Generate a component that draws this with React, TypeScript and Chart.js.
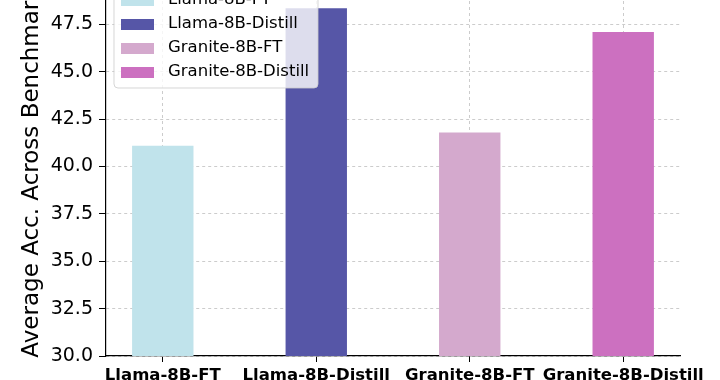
import React, { useEffect, useRef } from 'react';
import { Chart, registerables } from 'chart.js';

Chart.register(...registerables);

const categories = ['Llama-8B-FT', 'Llama-8B-Distill', 'Granite-8B-FT', 'Granite-8B-Distill'];
const values = [41.1, 48.35, 41.8, 47.1];
const colors = ['#c0e3eb', '#5656a7', '#d4a9cd', '#cc70c0'];
const yMin = 30;
const yMax = 50;
const yStep = 2.5;
const yTitle = 'Average Acc. Across Benchmarks';

const FONT = "'DejaVu Sans', sans-serif";
const SHIFT = 30; // canvas is shifted up so the top is cropped like the reference

const legendPlugin = {
  id: 'overlayLegend',
  afterDraw(chart: any) {
    const ctx = chart.ctx;
    const ca = chart.chartArea;
    const x = ca.left + 8;
    const y = ca.top + 11;
    const w = 204;
    const h = 100;
    ctx.save();
    ctx.beginPath();
    (ctx as any).roundRect(x, y, w, h, 4);
    ctx.fillStyle = 'rgba(255,255,255,0.8)';
    ctx.fill();
    ctx.strokeStyle = 'rgba(204,204,204,0.8)';
    ctx.lineWidth = 1;
    ctx.stroke();
    ctx.font = `16.5px ${FONT}`;
    ctx.textBaseline = 'middle';
    ctx.textAlign = 'left';
    categories.forEach((c, i) => {
      const cy = y + 12 + i * 24;
      ctx.fillStyle = colors[i];
      ctx.fillRect(x + 7, cy - 5, 33, 11);
      ctx.fillStyle = '#000';
      ctx.fillText(c, x + 54, cy);
    });
    ctx.restore();
  },
};

export default function App() {
  const ref = useRef<HTMLCanvasElement | null>(null);
  useEffect(() => {
    if (!ref.current) return;
    const chart = new Chart(ref.current, {
      type: 'bar',
      data: {
        datasets: [
          {
            data: categories.map((_, i) => ({ x: i, y: values[i] })) as any,
            backgroundColor: colors,
            borderWidth: 0,
            categoryPercentage: 0.4,
            barPercentage: 1,
          },
        ],
      },
      options: {
        animation: false,
        responsive: false,
        devicePixelRatio: 1,
        layout: { padding: { top: 7, right: 40, bottom: 0, left: 0 } },
        plugins: { legend: { display: false }, tooltip: { enabled: false } },
        scales: {
          x: {
            type: 'linear',
            min: -0.37,
            max: 3.37,
            offset: false,
            afterBuildTicks: (scale: any) => {
              scale.ticks = categories.map((_, i) => ({ value: i }));
            },
            afterFit: (scale: any) => {
              scale.height = 24;
              scale.paddingLeft = 0;
              scale.paddingRight = 0;
            },
            ticks: {
              autoSkip: false,
              maxRotation: 0,
              minRotation: 0,
              padding: 4,
              color: '#000',
              font: { family: FONT, size: 16.5, weight: 'bold' },
              callback: (v: any) => categories[v] ?? '',
            },
            grid: { offset: false, color: '#cccccc', lineWidth: 1, tickColor: '#000', tickLength: 6, tickWidth: 1 },
            border: { display: true, color: '#000', width: 1.2, dash: [3, 3] },
          },
          y: {
            min: yMin,
            max: yMax,
            afterBuildTicks: (scale: any) => {
              const t = [];
              for (let v = yMin; v <= yMax + 1e-9; v += yStep) t.push({ value: v });
              scale.ticks = t;
            },
            afterFit: (scale: any) => {
              scale.width = 106;
              scale.paddingTop = 0;
              scale.paddingBottom = 0;
            },
            ticks: {
              stepSize: yStep,
              padding: 6,
              color: '#000',
              font: { family: FONT, size: 19 },
              callback: (v: any) => Number(v).toFixed(1),
            },
            title: {
              display: true,
              text: yTitle,
              color: '#000',
              font: { family: FONT, size: 23 },
              padding: { top: 18, bottom: 0 },
            },
            grid: { color: '#cccccc', lineWidth: 1, tickColor: '#000', tickLength: 7, tickWidth: 1 },
            border: { display: true, color: '#000', width: 1.2, dash: [3, 3] },
          },
        },
      },
      plugins: [legendPlugin],
    });
    return () => chart.destroy();
  }, []);
  return (
    <div style={{ position: 'absolute', left: 0, top: 0, width: 720, height: 380, overflow: 'hidden', background: '#fff' }}>
      <canvas ref={ref} width={720} height={380 + SHIFT} style={{ position: 'absolute', left: 0, top: -SHIFT }} />
    </div>
  );
}
